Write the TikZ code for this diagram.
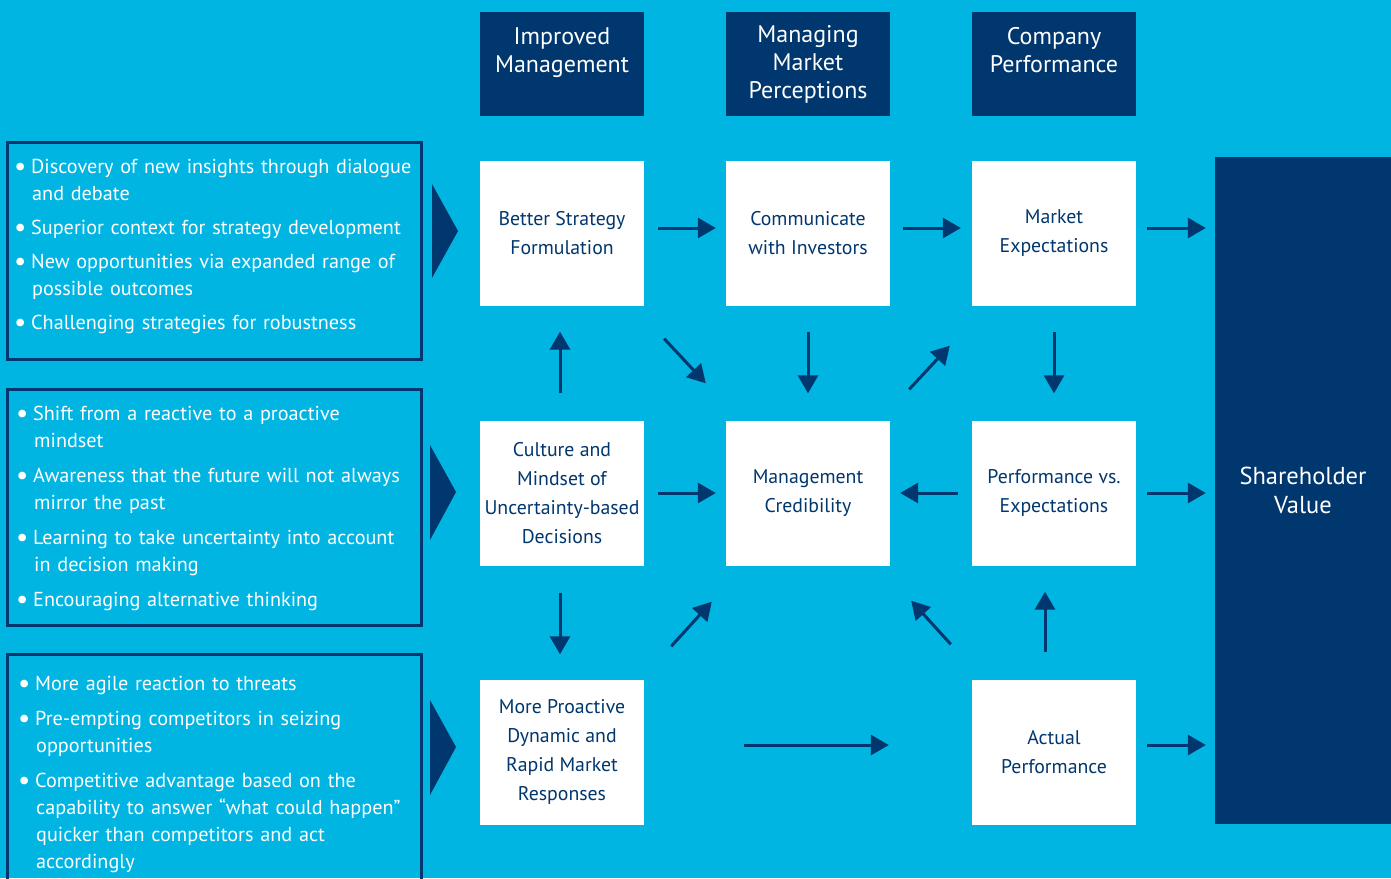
\documentclass[tikz,border=0pt]{standalone}
\usepackage{fontspec}
\setmainfont{PT Sans}
\usetikzlibrary{arrows.meta,calc}
\definecolor{bg}{RGB}{0,181,226}
\definecolor{navy}{RGB}{0,55,110}
\newcommand{\bl}{\makebox[17pt][l]{\raisebox{-2.5pt}{\scalebox{1.35}{\textbullet}}}}
\newcommand{\ind}{\hspace*{18pt}}
\begin{document}
\begin{tikzpicture}[x=1pt,y=-1pt,
 wbox/.style={fill=white, minimum width=164pt, minimum height=145pt, inner sep=0pt, text=navy, align=center, font=\fontsize{19.8}{29}\selectfont},
 hbox/.style={fill=navy, minimum width=164pt, minimum height=104pt, inner sep=0pt, text=white, align=center, font=\fontsize{24}{28}\selectfont},
 svbox/.style={fill=navy, minimum width=176pt, minimum height=667pt, inner sep=0pt, text=white, align=center, font=\fontsize{24.5}{29}\selectfont},
 arr/.style={draw=navy, line width=3pt, -{Triangle[length=18pt,width=20pt]}},
 lbox/.style={draw=navy, line width=2.5pt, inner sep=0pt, anchor=north west},
 ltext/.style={text=white, align=left, anchor=north west, inner sep=0pt, text width=400pt, font=\fontsize{20.2}{27}\selectfont},
 tri/.style={fill=navy}
]
\fill[bg] (0,0) rectangle (1391,878);
\useasboundingbox (0,0) rectangle (1391,878);

% headers
\node[hbox] (h1) at (562,64) {Improved\\Management\\\phantom{M}};
\node[hbox] (h2) at (808,64) {Managing\\Market\\Perceptions};
\node[hbox] (h3) at (1054,64) {Company\\Performance\\\phantom{M}};

% white boxes
\node[wbox] (bs) at (562,233) {Better Strategy\\Formulation};
\node[wbox] (ci) at (808,233) {Communicate\\with Investors};
\node[wbox] (me) at (1054,233) {Market\\Expectations};
\node[wbox] (cu) at (562,493) {Culture and\\Mindset of\\Uncertainty-based\\Decisions};
\node[wbox] (mc) at (808,493) {Management\\Credibility};
\node[wbox] (pe) at (1054,493) {Performance vs.\\Expectations};
\node[wbox] (mp) at (562,752) {More Proactive\\Dynamic and\\Rapid Market\\Responses};
\node[wbox] (ap) at (1054,752) {Actual\\Performance};

\node[svbox] (sv) at (1303,490.5) {Shareholder\\Value};

% left boxes
\node[lbox, minimum width=414pt, minimum height=217pt] (L1) at (6,141) {};
\node[lbox, minimum width=414pt, minimum height=236pt] (L2) at (6,388) {};
\node[lbox, minimum width=414pt, minimum height=260pt] (L3) at (6,653) {};

\node[ltext] (T1) at (14,158.5) {\bl Discovery of new insights through dialogue\\
\ind and debate\\[7pt]
\bl Superior context for strategy development\\[7pt]
\bl New opportunities via expanded range of\\
\ind possible outcomes\\[7pt]
\bl Challenging strategies for robustness};

\node[ltext] (T2) at (16,405.5) {\bl Shift from a reactive to a proactive\\
\ind mindset\\[8pt]
\bl Awareness that the future will not always\\
\ind mirror the past\\[8pt]
\bl Learning to take uncertainty into account\\
\ind in decision making\\[8pt]
\bl Encouraging alternative thinking};

\node[ltext] (T3) at (18,675.5) {\bl More agile reaction to threats\\[8pt]
\bl Pre-empting competitors in seizing\\
\ind opportunities\\[8pt]
\bl Competitive advantage based on the\\
\ind capability to answer “what could happen”\\
\ind quicker than competitors and act\\
\ind accordingly};

% triangles
\fill[tri] (432,184) -- (458,231) -- (432,278) -- cycle;
\fill[tri] (430,445) -- (456,492) -- (430,540) -- cycle;
\fill[tri] (430,700) -- (456,747) -- (430,795) -- cycle;

% horizontal arrows
\draw[arr, shorten <=14pt, shorten >=10pt] ([yshift=5pt]bs.east) -- ([yshift=5pt]ci.west);
\draw[arr, shorten <=13pt, shorten >=11pt] ([yshift=5pt]ci.east) -- ([yshift=5pt]me.west);
\draw[arr, shorten <=11pt, shorten >=9pt] ([yshift=5pt]me.east) -- ([yshift=5pt]me.east -| sv.west);
\draw[arr, shorten <=14pt, shorten >=10pt] (cu.east) -- (mc.west);
\draw[arr, shorten <=14pt, shorten >=10pt] (pe.west) -- (mc.east);
\draw[arr, shorten <=11pt, shorten >=9pt] (pe.east) -- (pe.east -| sv.west);
\draw[arr, shorten <=100pt, shorten >=83pt] ([yshift=7pt]mp.east) -- ([yshift=7pt]ap.west);
\draw[arr, shorten <=11pt, shorten >=9pt] ([yshift=7pt]ap.east) -- ([yshift=7pt]ap.east -| sv.west);

% vertical arrows
\draw[arr, shorten <=27pt, shorten >=26pt] ([xshift=-2pt]cu.north) -- ([xshift=-2pt]bs.south);
\draw[arr, shorten <=26pt, shorten >=27pt] (ci.south) -- (mc.north);
\draw[arr, shorten <=26pt, shorten >=27pt] (me.south) -- (pe.north);
\draw[arr, shorten <=27pt, shorten >=25pt] ([xshift=-2pt]cu.south) -- ([xshift=-2pt]mp.north);
\draw[arr, shorten <=27pt, shorten >=26pt] ([xshift=-9pt]ap.north) -- ([xshift=-9pt]pe.south);

% diagonal arrows
\draw[arr] ($(bs.south east)+(20,33)$) -- ($(mc.north west)+(-20,-37)$);
\draw[arr] ($(mc.north east)+(19,-31)$) -- ($(me.south west)+(-22,40)$);
\draw[arr] ($(mp.north east)+(27,-33)$) -- ($(mc.south west)+(-14,36)$);
\draw[arr] ($(ap.north west)+(-21,-35)$) -- ($(mc.south east)+(21,35)$);
\end{tikzpicture}
\end{document}
